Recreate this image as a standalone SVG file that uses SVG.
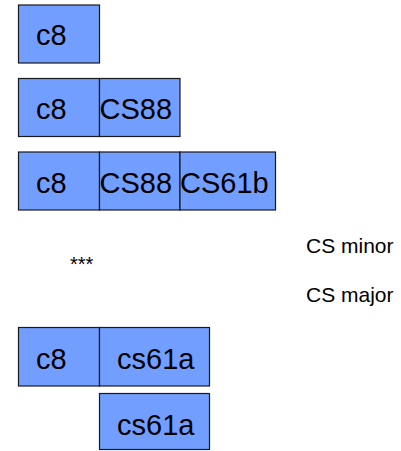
<svg xmlns="http://www.w3.org/2000/svg" width="401" height="451" viewBox="0 0 401 451">
  <style>
    .cell { fill: #729fff; stroke: #1a1a1a; stroke-width: 1.2; }
    .lbl { font-family: "Liberation Sans", Arial, sans-serif; font-size: 29px; fill: #000; }
    .note { font-family: "Liberation Sans", Arial, sans-serif; font-size: 21px; fill: #000; }
    .stars { font-family: "Liberation Sans", Arial, sans-serif; font-size: 20px; fill: #000; }
  </style>
  <rect width="401" height="451" fill="#ffffff"/>

  <!-- row 1 -->
  <g id="r1-c8">
    <rect class="cell" x="18.5" y="5" width="81" height="58"/>
    <text class="lbl" x="36" y="45">c8</text>
  </g>

  <!-- row 2 -->
  <g id="r2-c8">
    <rect class="cell" x="18.5" y="78.5" width="81" height="58"/>
    <text class="lbl" x="36" y="118.5">c8</text>
  </g>
  <g id="r2-cs88">
    <rect class="cell" x="99.5" y="78.5" width="80.5" height="58"/>
    <text class="lbl" x="99.5" y="118.5">CS88</text>
  </g>

  <!-- row 3 -->
  <g id="r3-c8">
    <rect class="cell" x="18.5" y="152" width="81" height="58"/>
    <text class="lbl" x="36" y="192.5">c8</text>
  </g>
  <g id="r3-cs88">
    <rect class="cell" x="99.5" y="152" width="80.5" height="58"/>
    <text class="lbl" x="99.5" y="192.5">CS88</text>
  </g>
  <g id="r3-cs61b">
    <rect class="cell" x="180" y="152" width="95.5" height="58"/>
    <text class="lbl" x="180" y="192.5">CS61b</text>
  </g>

  <!-- ellipsis and legend -->
  <g id="ellipsis">
    <text class="stars" x="70" y="271">***</text>
  </g>
  <g id="legend-minor">
    <text class="note" x="306" y="253">CS minor</text>
  </g>
  <g id="legend-major">
    <text class="note" x="306" y="302">CS major</text>
  </g>

  <!-- row 4 -->
  <g id="r4-c8">
    <rect class="cell" x="18.5" y="327.5" width="81" height="58.5"/>
    <text class="lbl" x="36" y="369">c8</text>
  </g>
  <g id="r4-cs61a">
    <rect class="cell" x="99.5" y="327.5" width="110" height="58.5"/>
    <text class="lbl" x="117" y="369">cs61a</text>
  </g>

  <!-- row 5 -->
  <g id="r5-cs61a">
    <rect class="cell" x="99.5" y="393.5" width="110" height="56"/>
    <text class="lbl" x="117" y="435">cs61a</text>
  </g>

  <g id="connectors"/>
</svg>
